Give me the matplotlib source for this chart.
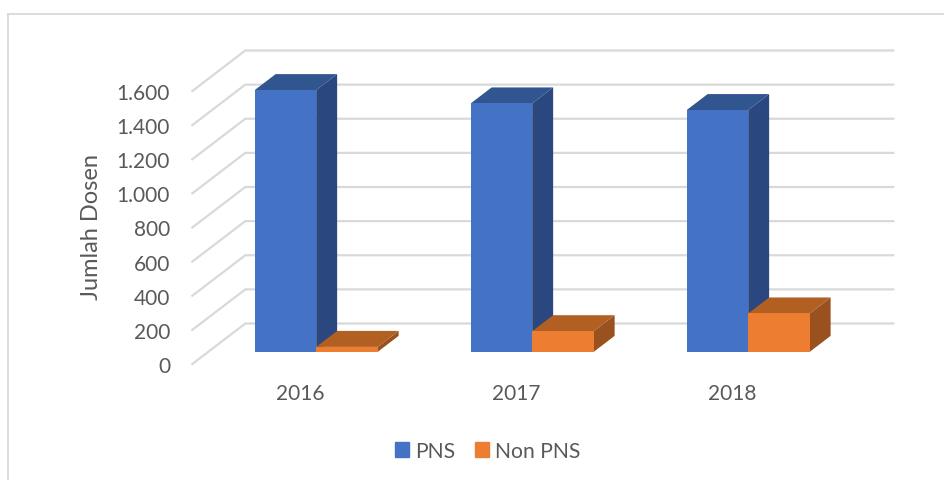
import matplotlib
matplotlib.use("Agg")
import matplotlib.pyplot as plt
from matplotlib.lines import Line2D
from matplotlib.patches import Patch

plt.rcParams['font.family'] = ['Lato', 'DejaVu Sans']

tahun = ['2016', '2017', '2018']
pns = [1534, 1456, 1417]
non_pns = [29, 121, 225]
yticks = [0, 200, 400, 600, 800, 1000, 1200, 1400, 1600]
ytick_labels = ['0', '200', '400', '600', '800', '1.000', '1.200', '1.400', '1.600']

W, H = 944, 481
abu = '#d9d9d9'
teks = '#595959'

# kedalaman 3D dalam satuan data (sumbu x = kategori, sumbu y = jumlah)
DX = 53 / 216
DY = 1600 * 40.5 / 273
lebar = 61.5 / 216
d_depan, d_belakang = 0.30, 0.695


def proj(x, v, d):
    return x + d * DX, v + d * DY


def balok(ax, x0, x1, v, warna, atas, sisi):
    # sisi kanan, atap, lalu muka depan
    pts = [proj(x1, 0, d_depan), proj(x1, 0, d_belakang), proj(x1, v, d_belakang), proj(x1, v, d_depan)]
    ax.fill(*zip(*pts), color=sisi, lw=0, clip_on=False, zorder=3)
    pts = [proj(x0, v, d_depan), proj(x0, v, d_belakang), proj(x1, v, d_belakang), proj(x1, v, d_depan)]
    ax.fill(*zip(*pts), color=atas, lw=0, clip_on=False, zorder=3)
    pts = [proj(x0, 0, d_depan), proj(x1, 0, d_depan), proj(x1, v, d_depan), proj(x0, v, d_depan)]
    ax.fill(*zip(*pts), color=warna, lw=0, clip_on=False, zorder=3)


fig = plt.figure(figsize=(W / 100, H / 100), dpi=100)
ax = fig.add_axes([192.3 / W, 1 - 365 / H, 648 / W, 273 / H])
ax.set_xlim(0, 3)
ax.set_ylim(0, 1600)

# garis dinding belakang + diagonal lantai
for v in yticks:
    xs, ys = zip(proj(0, v, 0), proj(0, v, 1), proj(3, v, 1))
    ax.plot(xs, ys, color=abu, lw=1.6, clip_on=False, zorder=1, solid_joinstyle='miter')

for i in range(len(tahun)):
    tengah = i + 0.5
    balok(ax, tengah - lebar, tengah, pns[i], '#4472c4', '#31558f', '#2a477f')
    balok(ax, tengah, tengah + lebar, non_pns[i], '#ed7d31', '#b25f22', '#99521f')

for s in ax.spines.values():
    s.set_visible(False)
ax.set_facecolor('none')
ax.set_xticks([0.5, 1.5, 2.5], tahun)
ax.set_yticks(yticks, ytick_labels)
ax.tick_params(axis='x', length=0, pad=14, labelsize=15, labelcolor=teks)
ax.tick_params(axis='y', length=0, pad=16, labelsize=15, labelcolor=teks)
ax.set_ylabel('Jumlah Dosen', fontsize=17, color=teks)
ax.yaxis.set_label_coords((102 - 192.3) / 648, (365 - 227) / 273)

handles = [Patch(color='#4472c4', label='PNS'), Patch(color='#ed7d31', label='Non PNS')]
fig.legend(handles=handles, ncol=2, frameon=False, loc='center', bbox_to_anchor=(487.5 / W, 1 - 452 / H),
           fontsize=15.2, labelcolor=teks, handlelength=0.66, handleheight=0.66, handletextpad=0.28, columnspacing=0.95)

# bingkai kiri dan atas
fig.add_artist(Line2D([8 / W, 8 / W], [0, 1 - 15 / H], color=abu, lw=1.3))
fig.add_artist(Line2D([8 / W, 1], [1 - 15 / H, 1 - 15 / H], color=abu, lw=1.3))

fig.savefig('out.png', dpi=100)
